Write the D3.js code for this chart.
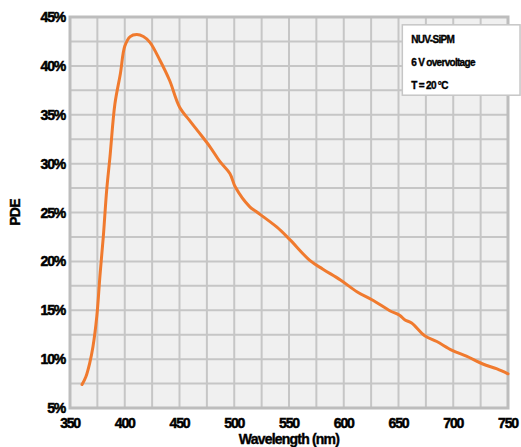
<!DOCTYPE html>
<html>
<head>
<meta charset="utf-8">
<script src="https://cdn.jsdelivr.net/npm/d3@7"></script>
<style>
  body { margin: 0; background: #fff; }
  svg text { font-family: "Liberation Sans", Arial, sans-serif; font-weight: bold; fill: #000; stroke: #000; }
  .tick-label { font-size: 14px; letter-spacing: -1.2px; stroke-width: 0.5px; }
  .axis-label { font-size: 14px; letter-spacing: -0.8px; stroke-width: 0.4px; }
  .note { font-size: 10px; letter-spacing: -0.7px; stroke-width: 0.35px; }
</style>
</head>
<body>
<svg id="chart" width="521" height="447"></svg>
<script>
// wavelength (nm) and photon detection efficiency (%)
var wavelength = [361, 364.5, 368, 371, 374.5, 377.4, 380.4, 383.5, 386.5, 391, 396, 400, 405, 411, 417, 423, 432, 441, 450,
  460, 467, 478, 487, 496, 501, 514, 520, 539, 551, 569, 581, 597, 612, 627, 642, 651, 656, 662, 674, 685,
  699, 712, 727, 740, 750];
var pde = [7.4, 8.2, 9.6, 11.3, 14.4, 18.6, 22.5, 27.3, 30.7, 36.1, 39.2, 42.0, 43.0, 43.2, 43.0, 42.4, 40.6, 38.5, 35.8,
  34.3, 33.3, 31.7, 30.2, 29.0, 27.6, 25.6, 25.1, 23.5, 22.2, 20.1, 19.2, 18.1, 16.9, 16.0, 14.95, 14.5, 14.0, 13.7, 12.4, 11.8,
  10.9, 10.3, 9.5, 9.0, 8.5];

var xTicks = [350, 400, 450, 500, 550, 600, 650, 700, 750];
var yTicks = [5, 10, 15, 20, 25, 30, 35, 40, 45];
var noteLines = ["NUV-SiPM", "6 V overvoltage", "T = 20 °C"];

var margin = {top: 17, right: 13, bottom: 39, left: 70};
var svg = d3.select("#chart");
var width = +svg.attr("width") - margin.left - margin.right;
var height = +svg.attr("height") - margin.top - margin.bottom;

var x = d3.scaleLinear().domain([350, 750]).range([0, width]);
var y = d3.scaleLinear().domain([5, 45]).range([height, 0]);

var g = svg.append("g")
  .attr("transform", "translate(" + margin.left + "," + margin.top + ")");

g.append("rect")
  .attr("width", width)
  .attr("height", height)
  .attr("fill", "#f0f0f0");

// grid every 25 nm and 2.5 %
g.append("g").selectAll("line")
  .data(d3.range(350, 751, 25))
  .enter().append("line")
    .attr("x1", function(d) { return x(d); })
    .attr("x2", function(d) { return x(d); })
    .attr("y1", 0)
    .attr("y2", height)
    .attr("stroke", "#c6c6c6")
    .attr("stroke-width", 2);

g.append("g").selectAll("line")
  .data(d3.range(5, 45.1, 2.5))
  .enter().append("line")
    .attr("x1", 0)
    .attr("x2", width)
    .attr("y1", function(d) { return y(d); })
    .attr("y2", function(d) { return y(d); })
    .attr("stroke", "#c6c6c6")
    .attr("stroke-width", 2);

g.append("rect")
  .attr("width", width)
  .attr("height", height)
  .attr("fill", "none")
  .attr("stroke", "#bdbdbd")
  .attr("stroke-width", 3);

// tick labels
g.append("g").selectAll("text")
  .data(yTicks)
  .enter().append("text")
    .attr("class", "tick-label")
    .attr("x", -5)
    .attr("y", function(d) { return y(d); })
    .attr("dy", "0.36em")
    .style("text-anchor", "end")
    .text(function(d) { return d + "%"; });

g.append("g").selectAll("text")
  .data(xTicks)
  .enter().append("text")
    .attr("class", "tick-label")
    .attr("x", function(d) { return x(d); })
    .attr("y", height + 20)
    .style("text-anchor", "middle")
    .text(function(d) { return d; });

g.append("text")
  .attr("class", "axis-label")
  .attr("x", width / 2)
  .attr("y", height + 36)
  .style("text-anchor", "middle")
  .text("Wavelength (nm)");

g.append("text")
  .attr("class", "axis-label")
  .attr("transform", "rotate(-90)")
  .attr("x", -height / 2)
  .attr("y", -50)
  .style("text-anchor", "middle")
  .text("PDE");

// curve
var pts = wavelength.map(function(w, i) { return {w: w, p: pde[i]}; });
var line = d3.line()
  .curve(d3.curveCatmullRom)
  .x(function(d) { return x(d.w); })
  .y(function(d) { return y(d.p); });

g.append("path")
  .attr("d", line(pts))
  .attr("fill", "none")
  .attr("stroke", "#f07a2e")
  .attr("stroke-width", 3)
  .attr("stroke-linejoin", "round")
  .attr("stroke-linecap", "round");

// note box
var nx = x(653.5), ny = y(44.2);
g.append("rect")
  .attr("x", nx)
  .attr("y", ny)
  .attr("width", x(761) - x(653.5))
  .attr("height", y(37) - y(44.2))
  .attr("fill", "#fff")
  .attr("stroke", "#c6c6c6")
  .attr("stroke-width", 1.5);

g.append("g").selectAll("text")
  .data(noteLines)
  .enter().append("text")
    .attr("class", "note")
    .attr("x", nx + 9)
    .attr("y", function(d, i) { return ny + 18 + i * 23; })
    .text(function(d) { return d; });
</script>
</body>
</html>
